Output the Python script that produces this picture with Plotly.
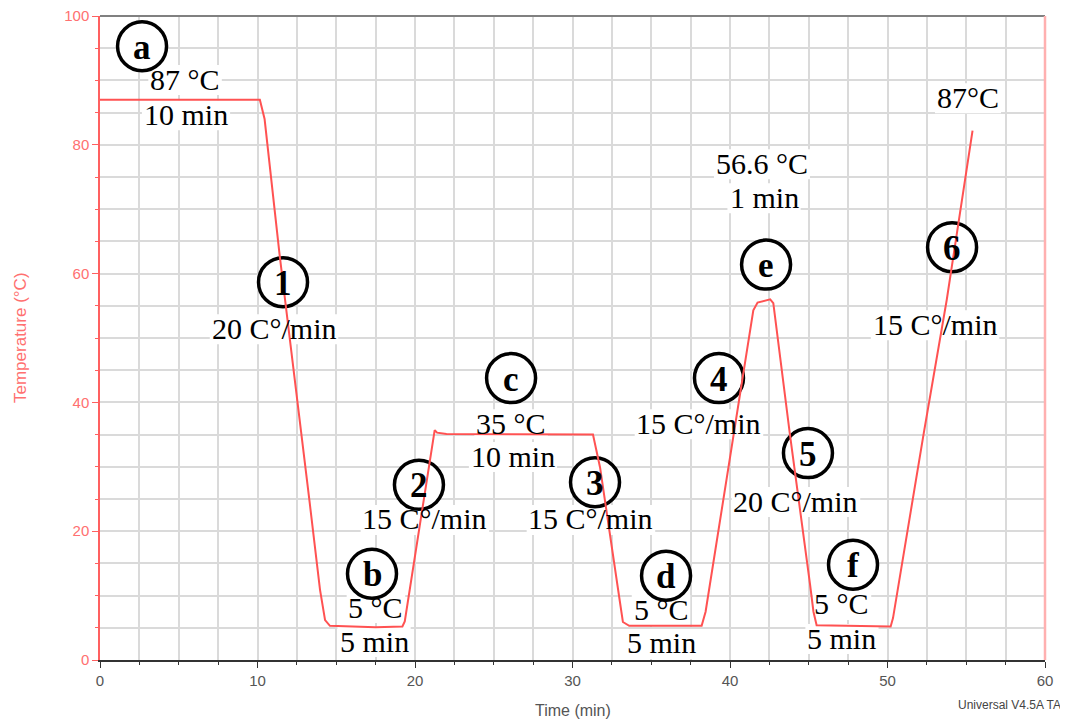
import plotly.graph_objects as go

# ---- data ----
time_min = [0, 10.15, 10.45, 11.4, 13.3, 13.97, 14.29, 14.6, 17.5, 19.2, 19.35,
            21.25, 21.4, 22.0, 31.3, 31.75, 33.0, 33.2, 33.6, 38.2, 38.45,
            40.6, 41.48, 41.75, 42.55, 42.75, 43.8, 45.08, 45.3, 45.5, 50.2,
            50.35, 52.3, 53.76, 55.4]
temp_c = [87, 87, 84, 63, 24.7, 10.9, 6.2, 5.3, 5.1, 5.2, 6.0,
          35.7, 35.3, 35.1, 35.0, 29.9, 9.2, 5.9, 5.3, 5.3, 7.5,
          40.3, 54.3, 55.5, 56.0, 55.4, 35.1, 11.8, 7.5, 5.4, 5.2,
          6.5, 35.2, 55.9, 82.2]

circle_labels = ["a", "1", "b", "2", "c", "3", "d", "4", "e", "5", "f", "6"]
circle_x = [2.67, 11.62, 17.27, 20.25, 26.10, 31.43, 35.94, 39.30, 42.29, 44.95, 47.81, 54.10]
circle_y = [95.3, 58.67, 13.4, 27.2, 43.77, 27.6, 13.1, 43.77, 61.4, 32.13, 14.8, 64.1]

note_text = ["87 °C", "10 min", "20 C°/min", "5 °C", "5 min", "15 C°/min",
             "35 °C", "10 min", "15 C°/min", "5 °C", "5 min", "15 C°/min",
             "56.6 °C", "1 min", "20 C°/min", "5 °C", "5 min", "15 C°/min", "87°C"]
note_x = [5.40, 5.46, 11.05, 17.52, 17.40, 20.63, 26.10, 26.22, 31.17, 35.62, 35.62,
          38.03, 42.03, 42.16, 44.19, 47.11, 47.11, 53.02, 55.11]
note_y = [89.9, 84.43, 51.22, 7.9, 2.64, 21.6, 36.47, 31.35, 21.6, 7.6, 2.33,
          36.47, 76.83, 71.55, 24.37, 8.4, 3.10, 51.84, 87.07]

x_ticks = [0, 10, 20, 30, 40, 50, 60]
y_ticks = [0, 20, 40, 60, 80, 100]

# ---- styling ----
SERIF = "Liberation Serif, Times New Roman, serif"
SANS = "Liberation Sans, Arial, sans-serif"
FS = 30
CW = {"°": 0.4, "C": 0.667, "/": 0.278, "m": 0.778, "i": 0.278, "n": 0.5,
      " ": 0.25, ".": 0.25}


def text_w(s, fs):
    return sum(CW.get(ch, 0.5) for ch in s) * fs


fig = go.Figure()
fig.add_trace(go.Scatter(x=time_min, y=temp_c, mode="lines",
                         line=dict(color="#ff5252", width=2),
                         hoverinfo="skip", showlegend=False))

shapes = []
annotations = []

# white boxes behind the text notes (above grid, below curve)
for t, x, y in zip(note_text, note_x, note_y):
    hw = text_w(t, FS) / 2 + 2
    shapes.append(dict(type="rect", xref="x", yref="y", xsizemode="pixel",
                       ysizemode="pixel", xanchor=x, yanchor=y,
                       x0=-hw, x1=hw, y0=-14, y1=16,
                       fillcolor="white", line=dict(width=0), layer="between"))
    annotations.append(dict(x=x, y=y, xref="x", yref="y", text=t, showarrow=False,
                            yshift=2,
                            font=dict(family=SERIF, size=FS, color="black"),
                            xanchor="center", yanchor="middle"))

# circled markers
for t, x, y in zip(circle_labels, circle_x, circle_y):
    shapes.append(dict(type="circle", xref="x", yref="y", xsizemode="pixel",
                       ysizemode="pixel", xanchor=x, yanchor=y,
                       x0=-24.5, x1=24.5, y0=-24.5, y1=24.5,
                       fillcolor="white", line=dict(color="black", width=3.5),
                       layer="between"))
    annotations.append(dict(x=x, y=y, xref="x", yref="y", text="<b>%s</b>" % t,
                            showarrow=False, yshift=-1,
                            font=dict(family=SERIF, size=35, color="black"),
                            xanchor="center", yanchor="middle"))

# frame: top grey, right pink
shapes.append(dict(type="line", xref="paper", yref="paper", x0=0, x1=1, y0=1, y1=1,
                   line=dict(color="#808080", width=2), layer="above"))
shapes.append(dict(type="line", xref="paper", yref="paper", x0=1, x1=1, y0=0, y1=1,
                   line=dict(color="#ffb0b0", width=2.5), layer="above"))

# axis titles & footer
annotations.append(dict(xref="paper", yref="paper", x=0.5, y=0, yanchor="top",
                        yshift=-40, text="Time (min)", showarrow=False,
                        font=dict(family=SANS, size=16, color="#555555")))
annotations.append(dict(xref="paper", yref="paper", x=0, y=0.5, xanchor="center",
                        xshift=-80, text="Temperature (°C)", textangle=-90,
                        showarrow=False,
                        font=dict(family=SANS, size=17, color="#ff7070")))
annotations.append(dict(xref="paper", yref="paper", x=1, y=0, xanchor="right",
                        yanchor="middle", xshift=18, yshift=-45,
                        text="Universal V4.5A TA", showarrow=False,
                        font=dict(family=SANS, size=12, color="#444444")))

GRID = "#dadada"
# the page body adds an 8px offset, so the figure is 8px smaller with 8px less margin
fig.update_layout(
    width=1060, height=713,
    margin=dict(l=92, r=23, t=8, b=61, autoexpand=False),
    paper_bgcolor="white", plot_bgcolor="white",
    shapes=shapes, annotations=annotations,
    xaxis=dict(range=[0, 60], tickvals=x_ticks, showgrid=True, gridcolor=GRID,
               gridwidth=1.5, zeroline=False, showline=True, linecolor="#333333",
               linewidth=1.5, ticks="outside", ticklen=6, tickcolor="#333333",
               ticklabeloverflow="allow", automargin=False,
               tickfont=dict(family=SANS, size=15, color="#555555"),
               minor=dict(dtick=2.5, tick0=0, showgrid=True, gridcolor=GRID,
                          gridwidth=1.5, ticks="outside", ticklen=3,
                          tickcolor="#333333")),
    yaxis=dict(range=[0, 100], tickvals=y_ticks, showgrid=True, gridcolor=GRID,
               gridwidth=1.5, zeroline=False, showline=True, linecolor="#ff6060",
               linewidth=1.5, ticks="outside", ticklen=6, tickcolor="#ff6060",
               ticklabeloverflow="allow", automargin=False,
               tickfont=dict(family=SANS, size=15, color="#ff7070"),
               minor=dict(dtick=5, tick0=0, showgrid=True, gridcolor=GRID,
                          gridwidth=1.5, ticks="outside", ticklen=3,
                          tickcolor="#ff6060")),
)

fig.write_html("out.html")
